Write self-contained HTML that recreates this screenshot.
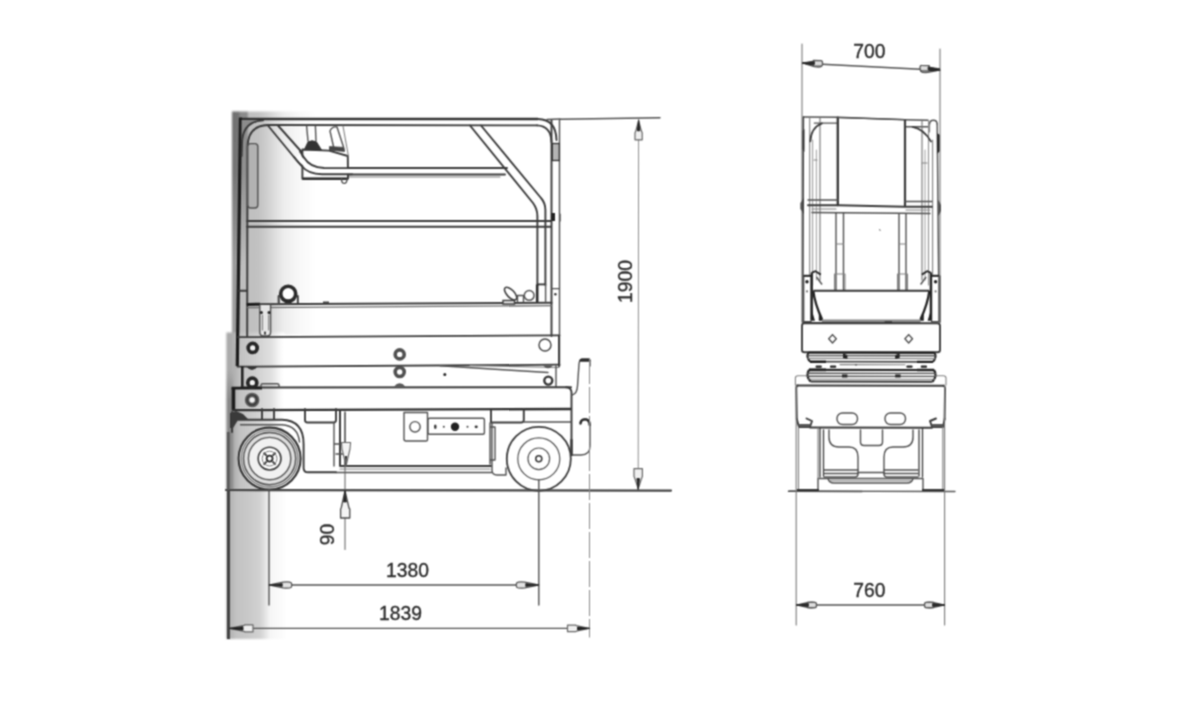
<!DOCTYPE html>
<html>
<head>
<meta charset="utf-8">
<title>Scissor lift dimensions</title>
<style>
html,body{margin:0;padding:0;background:#fff;}
body{width:1200px;height:706px;overflow:hidden;font-family:"Liberation Sans",sans-serif;}
svg{display:block;}
text{font-family:"Liberation Sans",sans-serif;fill:#2a2a2a;stroke:#2a2a2a;stroke-width:0.35;}
.d{stroke:#3a3a3a;stroke-width:1.9;fill:none;stroke-linecap:round;stroke-linejoin:round;}
.m{stroke:#505050;stroke-width:1.4;fill:none;stroke-linecap:round;stroke-linejoin:round;}
.l{stroke:#808080;stroke-width:1.1;fill:none;stroke-linecap:round;stroke-linejoin:round;}
.w{fill:#fff;}
</style>
</head>
<body>
<svg width="1200" height="706" viewBox="0 0 1200 706">
<defs>
  <linearGradient id="sh1" gradientUnits="userSpaceOnUse" x1="232" y1="0" x2="316" y2="0">
    <stop offset="0" stop-color="#9a9a9a"/>
    <stop offset="0.075" stop-color="#9c9c9c"/>
    <stop offset="0.1" stop-color="#bdbdbd"/>
    <stop offset="0.32" stop-color="#c2c2c2"/>
    <stop offset="0.425" stop-color="#d0d0d0"/>
    <stop offset="0.525" stop-color="#e0e0e0"/>
    <stop offset="0.625" stop-color="#eeeeee"/>
    <stop offset="0.8" stop-color="#f8f8f8"/>
    <stop offset="1" stop-color="#ffffff"/>
  </linearGradient>
  <linearGradient id="sh2" gradientUnits="userSpaceOnUse" x1="226" y1="0" x2="288" y2="0">
    <stop offset="0" stop-color="#b0b0b0"/>
    <stop offset="0.08" stop-color="#b4b4b4"/>
    <stop offset="0.16" stop-color="#c2c2c2"/>
    <stop offset="0.39" stop-color="#cacaca"/>
    <stop offset="0.55" stop-color="#d2d2d2"/>
    <stop offset="0.645" stop-color="#e6e6e6"/>
    <stop offset="0.71" stop-color="#f6f6f6"/>
    <stop offset="1" stop-color="#ffffff"/>
  </linearGradient>
  <linearGradient id="sh3" gradientUnits="userSpaceOnUse" x1="226" y1="0" x2="284" y2="0">
    <stop offset="0" stop-color="#a6a6a6"/>
    <stop offset="0.17" stop-color="#b4b4b4"/>
    <stop offset="0.24" stop-color="#c2c2c2"/>
    <stop offset="0.5" stop-color="#cecece"/>
    <stop offset="0.8" stop-color="#e2e2e2"/>
    <stop offset="0.93" stop-color="#f8f8f8"/>
    <stop offset="1" stop-color="#ffffff"/>
  </linearGradient>
  <linearGradient id="shv" gradientUnits="userSpaceOnUse" x1="0" y1="111" x2="0" y2="265">
    <stop offset="0" stop-color="#000" stop-opacity="0.27"/>
    <stop offset="0.4" stop-color="#000" stop-opacity="0.24"/>
    <stop offset="1" stop-color="#000" stop-opacity="0"/>
  </linearGradient>
  <linearGradient id="shv2" gradientUnits="userSpaceOnUse" x1="0" y1="370" x2="0" y2="400">
    <stop offset="0" stop-color="#000" stop-opacity="0"/>
    <stop offset="1" stop-color="#000" stop-opacity="0.2"/>
  </linearGradient>
  <filter id="bl" x="-2%" y="-2%" width="104%" height="104%" color-interpolation-filters="sRGB"><feConvolveMatrix order="3" kernelMatrix="1 2 1 2 5 2 1 2 1" divisor="17" edgeMode="none" preserveAlpha="false"/></filter>
  <filter id="bl2" x="-5%" y="-5%" width="110%" height="110%"><feGaussianBlur stdDeviation="0.9"/></filter>
</defs>
<rect x="0" y="0" width="1200" height="706" fill="#ffffff"/>

<!-- SHADOW -->
<g id="shadow" filter="url(#bl2)">
  <rect x="232" y="111.5" width="84" height="223" fill="url(#sh1)"/>
  <rect x="232" y="111.5" width="16" height="160" fill="url(#shv)"/>
  <rect x="226.4" y="332.5" width="58" height="158" fill="url(#sh3)"/>
  <rect x="226.4" y="370" width="7" height="120" fill="url(#shv2)"/>
  <rect x="226.4" y="490" width="62" height="149" fill="url(#sh2)"/>
</g>

<g id="draw" filter="url(#bl)">
<!-- SIDE VIEW -->
<g id="side">
  <!-- outer sharp frame corner + top -->
  <path d="M240.4,118.9 L538,119" style="stroke:#303030;stroke-width:2.5;fill:none"/><path d="M237.3,366 L240.4,117.6" style="stroke:#1c1c1c;stroke-width:3.2;fill:none"/>
  <path d="M241.6,120 L262,120 Q243.5,122 241.6,142 Z" fill="#8c8c8c"/>
  
  <!-- left tube with rounded corner -->
  <path class="d" d="M241.6,156 L242,143 Q242.6,121.5 263,120.4"/>
  <path class="d" d="M247.2,336 L247.4,148 Q247.4,125 269,125 L537,125.4"/>
  <!-- top right corner curve into post -->
  <path class="d" d="M538,119 Q556,119.4 556.5,140"/>
  <path class="d" d="M537,125.4 Q551,126 551.5,142"/>
  <!-- right post -->
  <path class="d" d="M551.5,120 L551.5,336"/>
  <path class="m" d="M559.5,120 L559.5,366"/>
  <path class="m" d="M547,119.5 L560,119"/>
  <rect x="552.3" y="143.5" width="7" height="17" fill="#b4b4b4" stroke="#333" stroke-width="1.3"/>
  <rect x="551" y="213" width="4" height="8" fill="#222"/>
  <path class="l" d="M560.5,214 L560.5,221"/>
  <!-- inner left panel -->
  <rect class="m" x="247.8" y="143.6" width="10" height="64.4" rx="3" ry="3" style="fill:#b2b2b2"/>
  <!-- left diagonal brace + horizontal rail -->
  <path class="d" d="M277.5,125 L307,158 Q315,168 328,168 L507,168"/>
  <path class="d" d="M267.5,125 L298,162 Q308,174.5 322,174.5 L505,174.5"/>
  <path class="l" d="M330,177 L500,177"/>
  <!-- control box -->
  <path d="M302.4,149.5 L329,150.6 L347.8,156 L348,178.8 L302.4,178.8 Z" style="fill:#fff;stroke:#3a3a3a;stroke-width:1.9;stroke-linejoin:round"/>
  <path d="M302.4,178.8 L348,178.8" style="stroke:#2e2e2e;stroke-width:2.4;fill:none"/>
  <!-- redraw tube over control box -->
  <path d="M298,156 Q309,171 325,171.2 L352,171.2" style="stroke:#fff;stroke-width:5;fill:none"/>
  <path class="d" d="M300,151.5 L304,157.5 Q310,167.6 324,168 L352,168.1"/>
  <path class="d" d="M294,157 L301.7,166 Q308,174 322,174.3 L352,174.3"/>
  <path class="m" d="M341.5,179 Q341.5,183.4 344.2,183.4 Q347,183.4 347,179"/>
  <!-- joysticks -->
  <path class="m" d="M306.6,126 L308,141 M315.4,126 L316,141"/>
  <path d="M304.6,149.2 L308,142 Q312,139.6 316.5,142 L321.5,150 L304.6,149.6 Z" style="fill:#333;stroke:#333;stroke-width:1"/>
  <path class="m" d="M330,131 Q332,126 337,127 L343.5,147 M330,131 L333.6,147"/>
  <path class="l" d="M343,126 L348.4,156"/>
  <path d="M329.4,146.6 L344,147.4 L344.6,151.4 L329.6,150.2 Z" style="fill:#444;stroke:#444;stroke-width:0.8"/>
  <!-- right diagonal brace -->
  <path class="d" d="M481,125.5 L541,198 Q545.4,203 545.4,210 L545.4,285"/>
  <path class="d" d="M470,125.5 L533,203 Q537.4,209 537.4,216 L537.4,285"/>
  <!-- mid rail -->
  <path class="d" d="M247,221 L551,221"/>
  <path class="d" d="M247,226.8 L551,226.8"/>
  <!-- platform floor -->
  <path class="d" d="M247,304.2 L551.6,302.7" style="stroke-width:2"/>
  <path class="m" d="M247,307.6 L551.6,305.7" style="stroke:#6a6a6a;stroke-width:1.3"/>
  <!-- left lower post thick -->
  <path class="d" d="M239,290.8 L247,290.8"/>
  <path d="M247,304.4 L260,304.3" style="stroke:#1c1c1c;stroke-width:3;fill:none"/>
  <!-- small bracket -->
  <path class="m" d="M259.8,305 L259.8,332 Q259.8,336 263.5,336 L267,336 Q270.6,336 270.6,332 L270.6,305" style="fill:#e6e6e6"/>
  <path class="l" d="M262.5,315 L262.5,330 M268.6,315 L268.6,330"/><circle cx="261.4" cy="312.5" r="1.5" fill="#222"/><circle cx="269" cy="312.5" r="1.5" fill="#222"/><rect x="264" y="331.6" width="2" height="3" fill="#444"/>
  <!-- clamp circle -->
  <path class="d" d="M278.6,304 L278.6,296 M297.8,304 L297.8,296"/>
  <path class="m" d="M274,303.6 L279,303.6 L279,300"/>
  <circle cx="288.2" cy="293.8" r="7.5" style="fill:#fff;stroke:#2a2a2a;stroke-width:3.6"/>
  <path d="M284.5,300.5 L292,300.5" style="stroke:#2a2a2a;stroke-width:2;fill:none"/>
  <!-- butterfly / right floor details -->
  <ellipse cx="510.6" cy="293.6" rx="8" ry="3.7" transform="rotate(47 510.6 293.6)" style="fill:#fff;stroke:#3c3c3c;stroke-width:1.6"/>
  <circle cx="529.2" cy="295.4" r="4.9" style="fill:#fff;stroke:#555;stroke-width:1.5"/>
  <path class="m" d="M517.5,302 L517.5,295.5 L523.5,295.5 L523.5,302"/>
  <path d="M503,300.5 L514.5,300.5 L514.5,304 L503,304 Z" style="fill:#eee;stroke:#3c3c3c;stroke-width:1.4"/>
  <path d="M537,284.4 L545.6,284.4" style="stroke:#333;stroke-width:1.8;fill:none"/>
  <path d="M537.2,284.4 L537.2,302" style="stroke:#2a2a2a;stroke-width:2.6;fill:none"/>
  <path class="m" d="M545.6,284.4 L545.6,303"/>
  <path class="m" d="M552,288.6 L559.4,288.6"/>
  <circle cx="555.4" cy="294.2" r="1.2" fill="#2a2a2a"/>
  <path d="M323,301.5 L329,301.5 L329,303.5 L323,303.5Z" fill="#444"/>

  <!-- scissor arm 1 -->
  <path class="d" d="M238,337.2 L559.5,335.3" style="stroke-width:1.8"/>
  <path class="d" d="M237.5,366.7 L559.5,364.7" style="stroke-width:1.8"/>
  <path class="d" d="M559,336 L559,366"/>
  <!-- scissor arm 2 (folded) -->
  <path d="M242.3,366 L242.3,388" style="stroke:#222;stroke-width:2.6;fill:none"/>
  <path class="m" d="M440,365.8 L548,372.5"/>
  <path class="l" d="M470,365.5 L559,367.5"/>
  <path class="m" d="M556,366 L556,387"/>
  <circle cx="444.8" cy="374.5" r="1.5" fill="#222"/>
  <!-- chassis -->
  <path class="d" d="M241,387.6 L571,387.2" style="stroke-width:2"/>
  <path d="M233.4,388 L233.4,410.4" style="stroke:#1c1c1c;stroke-width:3.6;fill:none"/><path class="d" d="M233.4,410.2 L571,409" style="stroke-width:2.3;stroke:#2e2e2e"/>
  <path d="M231.5,388.2 L262,388" style="stroke:#1c1c1c;stroke-width:2.8;fill:none"/>
  <path class="d" d="M566,387.2 Q571,387.2 571.5,392 L571.5,455"/>
  <!-- nub -->
  <path class="m" d="M261,387 L261,385 Q261,383.8 263,383.8 L277,383.8 Q279,383.8 279,385 L279,387"/>
  <!-- bolts -->
  <g>
    <circle cx="252.7" cy="347.9" r="4.5" style="fill:#f2f2f2;stroke:#262626;stroke-width:3.7"/>
    <path d="M246.2,366.6 Q252,373.4 257.6,366.6 Z" fill="#333"/>
    <circle cx="252.3" cy="382.7" r="4.5" style="fill:#f2f2f2;stroke:#262626;stroke-width:3.7"/>
    <circle cx="252.1" cy="400" r="5" style="fill:#f2f2f2;stroke:#5c5c5c;stroke-width:4.6"/>
    <circle cx="252.1" cy="400" r="5" style="fill:none;stroke:#333;stroke-width:1.2"/>
    <circle cx="399.7" cy="354.4" r="4.5" style="fill:#fff;stroke:#505050;stroke-width:3.6"/>
    <circle cx="399.7" cy="372" r="4.5" style="fill:#fff;stroke:#505050;stroke-width:3.6"/>
    <path d="M394,386.6 Q399.7,380 405.4,386.6 Z" fill="#555"/>
    <circle cx="545" cy="345" r="6" style="fill:#fff;stroke:#444;stroke-width:1.4"/>
    <circle cx="548.3" cy="380.6" r="4" style="fill:#fff;stroke:#333;stroke-width:2.4"/>
    <path d="M543,365.4 Q548,371 553,365.4 Z" fill="#555"/>
  </g>
  <!-- under chassis boxes -->
  <path class="d" d="M305,409 L305,420 Q305,422.5 307.5,422.5 L333.5,422.5 Q336,422.5 336,420 L336,409"/>
  <path class="d" d="M491,409 L491,422.5 L521,422.5 Q523.8,422.5 523.8,420 L523.8,409"/>
  <!-- battery box -->
  <path class="d" d="M340,410 L340,466 L491,466" style="stroke-width:2"/>
  <path class="m" d="M345,412 L345,466"/>
  <path class="m" d="M336,472.5 L492,472.5"/>
  <path class="l" d="M340,469 L490,469"/>
  <path class="m" d="M334,422.5 L334,466 M334,444 L345,444 M336,454 L345,454"/>
  <path class="m" d="M490,423 L490,464 M495,427 L495,460 M490,427 L495,427 M490,460 L495,460"/>
  <!-- left fender -->
  <path class="d" d="M238,419.8 L282,419.8 Q303.6,420.5 303.6,444 L303.6,468 Q303.6,472.3 308,472.3 L336,472.3"/>
  <path class="m" d="M240.5,424.8 L282,424.8 Q298,426 299.5,442"/>
  <path class="d" d="M262,409 L262,419 M274,409 L274,419"/>
  <path d="M230,413 L236,411 L243,414 L248,419 L238,420 L233,428 L230,428 Z" fill="#3a3a3a"/>
  <path class="d" d="M232,412 L232,432"/>
  <!-- control panel -->
  <path class="m w" d="M404,412.5 L427.5,412.5 L427.5,440 Q427.5,441 426,441 L406,441 Q404,441 404,439 Z" style="fill:#fff"/>
  <circle class="m" cx="415" cy="426.8" r="5.2"/>
  <rect class="m" x="428" y="418.2" width="56.4" height="16" rx="1.5" style="fill:#fff"/>
  <ellipse cx="435.3" cy="426.8" rx="1.3" ry="2.2" fill="#333"/>
  <circle cx="443.8" cy="426.8" r="1" fill="#444"/>
  <circle cx="455" cy="426.8" r="4.2" fill="#222"/>
  <circle cx="467.5" cy="426.8" r="1" fill="#444"/>
  <ellipse cx="476.2" cy="426.8" rx="1.6" ry="1.4" fill="#333"/>
  <!-- right body to wheel -->
  <path class="m" d="M492,423 L492,470 Q492,475 497,475 L506,475 L506,468"/>
  <path class="m" d="M523.8,422 L571,422"/>
  <!-- right hooks -->
  <path class="m" d="M572,395 Q577,394 577.5,386 L579,364 Q579.5,359 583,359 L588,359 Q590,359 590,362 L590,366"/>
  <path d="M581,360.2 L589,360.2" style="stroke:#2a2a2a;stroke-width:3;fill:none;stroke-linecap:round"/>
  <path class="m" d="M580,423 Q580.5,419 585,419 Q590,419 590,424 L590,446 Q590,455 581,455 L572,455"/><path d="M580.6,423.5 Q581,419.6 585,419.4 Q589.4,419.6 589.6,425" style="stroke:#2a2a2a;stroke-width:2.4;fill:none;stroke-linecap:round"/>
  <!-- LEFT WHEEL -->
  <circle cx="269.6" cy="458.6" r="31" style="fill:#ececec;stroke:#333;stroke-width:2.1"/>
  <circle cx="269.6" cy="458.6" r="28.3" style="fill:none;stroke:#6a6a6a;stroke-width:1.1"/>
  <circle cx="269.6" cy="458.6" r="26.1" style="fill:#dedede;stroke:#4a4a4a;stroke-width:1.4"/>
  <circle cx="269.6" cy="458.6" r="21.2" style="fill:#f1f1f1;stroke:#555;stroke-width:1.4"/>
  <circle cx="269.6" cy="458.6" r="11.4" style="fill:#fff;stroke:#3c3c3c;stroke-width:1.6"/>
  <path d="M263.6,452.6 L266.6,455.6 M275.6,452.6 L272.6,455.6 M263.6,464.6 L266.6,461.6 M275.6,464.6 L272.6,461.6" style="stroke:#333;stroke-width:1.8;fill:none"/>
  <circle cx="269.6" cy="458.6" r="7.4" style="fill:none;stroke:#777;stroke-width:1"/>
  <circle cx="269.6" cy="458.6" r="3" style="fill:#fff;stroke:#2a2a2a;stroke-width:1.8"/>
  <!-- RIGHT WHEEL -->
  <circle cx="538.8" cy="458.8" r="32" fill="#fff" stroke="#3a3a3a" stroke-width="1.8"/>
  <circle cx="538.8" cy="458.8" r="21" fill="none" stroke="#555" stroke-width="1.2"/>
  <circle cx="538.8" cy="458.8" r="10.8" fill="none" stroke="#555" stroke-width="1.2"/>
  <circle cx="538.8" cy="458.8" r="3" fill="#fff" stroke="#333" stroke-width="1.5"/>
  <path class="d" d="M571.5,440 L571.5,455" style="stroke-width:2.4"/>
</g>
<!-- FRONT VIEW -->
<g id="front">
  <!-- top of rails -->
  <path class="m" d="M803.5,117 L838,117.3 L905,119.8 L928,120.3"/>
  <path class="m" d="M814.3,123.1 L837,123.1 M905,126.8 L928.5,126.8"/>
  <!-- left posts -->
  <path class="m" d="M803.3,117 L802.7,322" style="stroke:#3c3c3c;stroke-width:1.7"/>
  <path class="l" d="M809.7,118 L809.7,290"/>
  <path class="l" d="M812.6,140 L812.6,285" style="stroke:#a0a0a0"/>
  <path class="l" d="M816.4,150 L816.4,280" style="stroke:#a8a8a8"/>
  <path class="l" d="M820,118 L820,280" style="stroke:#707070"/>
  <!-- right posts -->
  <path class="m" d="M937.2,124 L938.6,275"/><path class="m" d="M939.9,276 L939.9,322" style="stroke:#3c3c3c;stroke-width:1.7"/>
  <path class="m" d="M929.6,124 Q929.8,120.2 933.4,120.2 Q937,120.2 937.2,124"/>
  <path class="l" d="M929.6,124 L929.6,132"/>
  <path class="l" d="M932.6,140 L932.6,290"/>
  <path class="l" d="M928.5,120.3 L928.5,285" style="stroke:#909090"/>
  <path class="l" d="M925,150 L925,280" style="stroke:#a8a8a8"/>
  <path class="l" d="M922,120 L922,280" style="stroke:#707070"/>
  <!-- curved corners -->
  <path class="d" d="M810.3,141.5 Q811,127.5 822,123.4" style="stroke-width:1.7"/>
  <path class="d" d="M912.5,126.8 Q924,129 931,141.5" style="stroke-width:1.7"/>
  <path class="l" d="M814,160 L817,160 M922,163 L927,163"/>
  <!-- central panel -->
  <path class="d" d="M837.8,117.6 L837.8,205" style="stroke-width:2.4"/>
  <path class="d" d="M905,120 L905,206" style="stroke-width:2.2"/>
  <path class="m" d="M838,117.6 L905,119.6"/>
  <!-- side blobs -->
  <path d="M800.5,203 L803.5,198 L803.5,214 L800.5,209 Z" fill="#222"/>
  <path d="M941,205 L938.5,200 L938.5,216 L941,211 Z" fill="#222"/>
  <path d="M802.4,131 L804.4,129 L804.4,152 L802.4,149 Z" fill="#222"/>
  <path d="M939.8,135 L937.2,133 L937.2,154 L939.8,151 Z" fill="#222"/>
  <!-- mid rails -->
  <path class="m" d="M808,200 L838,200 M905,201.5 L932,201.5"/>
  <path class="d" d="M808,205.3 L838,205.3 L905,206.8 L932,206.8"/>
  <path class="m" d="M812,212.5 L930,213.5"/>
  <path class="l" d="M812,209 L836,209 M906,210 L930,210"/>
  <!-- lower vertical posts -->
  <path class="m" d="M836,213 L836,290 M843.5,213 L843.5,290"/>
  <path class="m" d="M899,214 L899,290 M906,214 L906,290"/>
  <path class="l" d="M836,244 L843.5,244 M834.5,274 L845,274 M834.5,274 L834.5,290 M845,274 L845,290"/>
  <path class="l" d="M899,244 L906,244 M897.5,274 L907.5,274 M897.5,274 L897.5,290 M907.5,274 L907.5,290"/>
  <path class="l" d="M879.5,229.5 L880.2,230.5"/>
  <!-- brackets at tray -->
  <path d="M803.7,275.6 L811.0,275.6 L811.0,321.6 L803.7,321.6 Z" style="fill:#fff;stroke:#4a4a4a;stroke-width:1.3"/>
  <path d="M803.7,275.8 L811.8,275.8" style="stroke:#222;stroke-width:2;fill:none"/>
  <circle cx="807.0" cy="281.8" r="1.7" fill="#1e1e1e"/><circle cx="807.0" cy="291.4" r="1.1" fill="#777"/>
  <path d="M811.8,272.6 L811.8,319.7" style="stroke:#222;stroke-width:2.2;fill:none"/>
  <path d="M811.5,272.8 L815.5,271.2 L820.8,274.6" style="stroke:#2a2a2a;stroke-width:1.9;fill:none;stroke-linejoin:round"/>
  <path d="M816.5,277 L822.0,284.5" style="stroke:#555;stroke-width:1.5;fill:none"/>
  <path d="M813.3,290.8 Q814.6,303 822.0,319.2" style="stroke:#222;stroke-width:2.3;fill:none"/>
  <path d="M811.2,308 L815.0,320.8 L811.2,320.8 Z M818.8,313.5 L823.6,320.8 L818.8,320.8 Z" fill="#222"/>
  <path d="M938.9,275.6 L931.6,275.6 L931.6,321.6 L938.9,321.6 Z" style="fill:#fff;stroke:#4a4a4a;stroke-width:1.3"/>
  <path d="M938.9,275.8 L930.8,275.8" style="stroke:#222;stroke-width:2;fill:none"/>
  <circle cx="935.6" cy="281.8" r="1.7" fill="#1e1e1e"/><circle cx="935.6" cy="291.4" r="1.1" fill="#777"/>
  <path d="M930.8,272.6 L930.8,319.7" style="stroke:#222;stroke-width:2.2;fill:none"/>
  <path d="M931.1,272.8 L927.1,271.2 L921.8,274.6" style="stroke:#2a2a2a;stroke-width:1.9;fill:none;stroke-linejoin:round"/>
  <path d="M926.1,277 L920.6,284.5" style="stroke:#555;stroke-width:1.5;fill:none"/>
  <path d="M929.3,290.8 Q928.0,303 920.6,319.2" style="stroke:#222;stroke-width:2.3;fill:none"/>
  <path d="M931.4,308 L927.6,320.8 L931.4,320.8 Z M923.8,313.5 L919.0,320.8 L923.8,320.8 Z" fill="#222"/>
  <!-- tray -->
  <path d="M813.3,290.7 L929.4,290.7" style="stroke:#333;stroke-width:2.1;fill:none"/>
  <path d="M822,321.8 L920.6,321.8" style="stroke:#8a8a8a;stroke-width:4.4;fill:none"/>
  <path d="M884.6,322.3 L892,322.3" style="stroke:#1e1e1e;stroke-width:1.8;fill:none"/>
  <!-- box with diamonds -->
  <path class="d" d="M804.5,323 L937.5,323.3 Q940,323.3 940,326 L940,350 Q940,352.3 937.5,352.3 L804.5,352.3 Q802,352.3 802,350 L802,326 Q802,323 804.5,323 Z"/>
  <path class="m" d="M832.5,334.6 L836.3,338.8 L832.5,343 L828.7,338.8 Z"/>
  <path class="m" d="M908.7,334.6 L912.5,338.8 L908.7,343 L904.9,338.8 Z"/>
  <!-- scissor stacks -->
  <path d="M808.5,352.6 L934.5,352.8" style="stroke:#222;stroke-width:2.2;fill:none"/>
  <path d="M808.5,352.6 Q805.8,357 810,361.6 M934.5,352.8 Q937.2,357 933,361.8" style="stroke:#222;stroke-width:2;fill:none"/>
  <path class="m" d="M808,355.6 L935,355.8"/>
  <path class="l" d="M808,358.4 L935,358.6"/>
  <path d="M810,361.7 L933,361.9" style="stroke:#4a4a4a;stroke-width:1.8;fill:none"/>
  <path d="M810,361.7 L826,361.7 M917,361.9 L933,361.9" style="stroke:#1e1e1e;stroke-width:2.4;fill:none"/>
  <path d="M843,353.5 L847.4,355 L847.4,359 L843,358 Z M899.6,353.5 L895.2,355 L895.2,359 L899.6,358 Z" fill="#222"/>
  <path d="M816.6,366.7 L820.8,366.7 M831,366.7 L835.2,366.7 M907.4,366.7 L911.6,366.7 M921.8,366.7 L926,366.7" style="stroke:#222;stroke-width:2.2;fill:none;stroke-linecap:round"/>
  <path class="l" d="M840,364.6 L905,364.8"/>
  <path d="M854.5,364 L856,366 L857.5,364 Z" fill="#555"/>
  <path d="M809,369.8 L934,370" style="stroke:#222;stroke-width:2.2;fill:none"/>
  <path d="M809,369.8 Q805.2,375.5 810.5,381.5 M934,370 Q937.8,375.5 932.5,381.7" style="stroke:#222;stroke-width:2.2;fill:none"/>
  <path d="M809,369.9 L826,369.9 M917,370 L934,370" style="stroke:#1e1e1e;stroke-width:2.6;fill:none"/>
  <path class="m" d="M807.6,373.2 L935.4,373.4 M807.4,376.2 L935.6,376.4"/>
  <path class="l" d="M808.5,379 L934.5,379.2"/>
  <path d="M810.5,381.6 L932.5,381.8" style="stroke:#333;stroke-width:2;fill:none"/>
  <path d="M842,374.6 L847.4,374.6 L847.4,377.4 L842,377.4 Z M900.6,374.6 L895.2,374.6 L895.2,377.4 L900.6,377.4 Z" fill="#222"/>
  <!-- chassis -->
  <path class="l" d="M795.4,385 L795.4,378 Q795.4,375.8 798,375.8 L806,375.8 M946,385 L946,378 Q946,375.8 943.4,375.8 L936,375.8"/>
  <path class="d" d="M797.5,385.5 L943.5,385.8" style="stroke-width:2"/>
  <path class="d" d="M797.5,385.5 Q796.3,386 796.3,389 L796.8,419 M943.5,385.8 Q945,386 945,389 L944.6,419"/>
  <path class="d" d="M796.8,419 L799,427 L810,427 L812,421 L806.5,418.5 M944.6,419 L943,427 L932,427 L930,421 L936,418.5"/>
  <path d="M799,424 L811,424 L810,427 L799.5,427 Z M943.5,424 L931.5,424 L932,427 L943,427 Z" fill="#555"/>
  <path class="d" d="M810,427.5 L932,427.8"/>
  <rect class="m" x="837" y="413" width="20.5" height="11.5" rx="5.5"/>
  <rect class="m" x="885" y="413" width="20.5" height="11.5" rx="5.5"/>
  <!-- under body -->
  <path class="d" d="M820,428 L820,477 M823.5,430 L823.5,476" style="stroke-width:1.3"/>
  <path class="d" d="M922.5,428 L922.5,477 M919,430 L919,476" style="stroke-width:1.3"/>
  <path class="m" d="M829,430 L829,437 Q829,447 839,447 L849,447 Q858,447 858,457 L858,474 Q858,477 855,477 L824,477"/>
  <path class="m" d="M913,430 L913,437 Q913,447 903,447 L893,447 Q884,447 884,457 L884,474 Q884,477 887,477 L918,477"/>
  <path class="m" d="M860.5,430 L860.5,442 Q860.5,445.5 864,445.5 L879,445.5 Q882.5,445.5 882.5,442 L882.5,430"/>
  <path class="m" d="M824,470 L858,470 M884,470 L918,470 M858,472.5 L884,472.5 M824,473.5 L858,473.5 M884,473.5 L918,473.5"/>
  <path class="m" d="M818,478.5 L818,491 M923,478.5 L923,491 M818,478.5 L923,478.5"/>
  <path class="m" d="M828,478.5 Q829,483 834,483 L907,483 Q912,483 913,478.5"/>
  <path class="l" d="M830,480.7 L911,480.7"/>
  <!-- wheels (faint) -->
  <path class="l" d="M798.5,427 L798.5,489 M818,428 L818,489 M942.8,427 L942.8,489"/>
</g>
<!-- DIMENSIONS -->
<g id="dims">
  <!-- ground + top ext lines (side) -->
  <path class="d" d="M226,490 L671,490.6" style="stroke-width:2.2;stroke:#444"/>
  <path class="m" d="M560,119.3 L660,117.8"/>
  <!-- left dark edge -->
  <path d="M228.4,432 L228.4,490" stroke="#555" stroke-width="2.4" fill="none"/><path d="M228.5,490 L228.5,639" stroke="#444" stroke-width="3" fill="none"/>
  <!-- 1900 vertical -->
  <path class="l" d="M638.6,120 L638.2,489" style="stroke:#8e8e8e;stroke-width:1"/>
  <text transform="translate(631.6,281.5) rotate(-90)" font-size="19.3" text-anchor="middle">1900</text>
  <!-- dashed overall length line -->
  <path d="M589.5,358 L589.5,637.5" stroke="#8a8a8a" stroke-width="1" stroke-dasharray="26 3" fill="none"/>
  <!-- wheel centre lines -->
  <path class="m" d="M269,490 L269,605"/>
  <path class="m" d="M538.8,480 L538.8,605"/>
  <!-- 1380 -->
  <path class="m" d="M269,585 L538.8,585"/>
  <text x="407.5" y="576.8" font-size="19.3" text-anchor="middle">1380</text>
  <!-- 1839 -->
  <path class="m" d="M229,628.4 L589.5,628.4"/>
  <text x="400.5" y="620.3" font-size="19.3" text-anchor="middle">1839</text>
  <!-- FRONT dims -->
  <path class="d" d="M788.5,491.2 L862,491.4" style="stroke-width:1.5"/>
  <path class="d" d="M790,491.2 L955,491.5" style="stroke-width:1.3;stroke:#555"/>
  <path d="M797,490 L819,490 M922,490 L945,490" stroke="#333" stroke-width="2.2" fill="none"/>
  <path class="l" d="M802,44 L802,322" style="stroke:#777"/>
  <path class="l" d="M940,49 L940,322" style="stroke:#777"/>
  <path class="m" d="M802.5,63.2 L940,70.2"/>
  <text x="869.3" y="57.6" font-size="19.3" text-anchor="middle">700</text>
  <path class="l" d="M796.2,385 L796.2,625" style="stroke:#777"/>
  <path class="l" d="M944.6,385 L944.6,625" style="stroke:#777"/>
  <path class="m" d="M796.5,605 L944.5,605"/>
  <text x="869.3" y="597.1" font-size="19.3" text-anchor="middle">760</text>
  <!-- 90 -->
  <path class="m" d="M345,413 L345,549.5" style="stroke-width:1;stroke:#5a5a5a"/>
  <text transform="translate(333.7,534.5) rotate(-90)" font-size="19.3" text-anchor="middle">90</text>
  <!-- arrows -->
  <path d="M638.6,120.8 L635.5,131.8 L635.0,132.8 L635.0,139.8 L642.2,139.8 L642.2,132.8 L641.7,131.8 Z" style="fill:#f0f0f0;stroke:#666;stroke-width:1.2;stroke-linejoin:round"/><path d="M638.6,119.8 L637.3,130.8 L639.9,130.8 Z" style="fill:#1e1e1e;stroke:#1e1e1e;stroke-width:0.9;stroke-linejoin:round"/>
  <path d="M638.2,488.6 L641.9,477.6 L642.4,476.6 L642.4,468.6 L634.0,468.6 L634.0,476.6 L634.5,477.6 Z" style="fill:#f0f0f0;stroke:#666;stroke-width:1.2;stroke-linejoin:round"/><path d="M638.2,489.6 L639.5,478.6 L636.9,478.6 Z" style="fill:#1e1e1e;stroke:#1e1e1e;stroke-width:0.9;stroke-linejoin:round"/>
  <path d="M272.2,585.6 L283.2,587.9 Q289.7,588.7 291.4,587.1 Q292.2,585.0 291.4,582.9 Q289.7,581.3 283.2,582.1 L272.2,584.4 Z" style="fill:#e2e2e2;stroke:#555;stroke-width:1.3;stroke-linejoin:round"/><path d="M269.2,585.0 L282.2,586.3 L282.2,583.7 Z" style="fill:#1e1e1e;stroke:#1e1e1e;stroke-width:0.9;stroke-linejoin:round"/>
  <path d="M535.8,584.4 L524.8,582.1 Q518.3,581.3 516.6,582.9 Q515.8,585.0 516.6,587.1 Q518.3,588.7 524.8,587.9 L535.8,585.6 Z" style="fill:#e2e2e2;stroke:#555;stroke-width:1.3;stroke-linejoin:round"/><path d="M538.8,585.0 L525.8,583.7 L525.8,586.3 Z" style="fill:#1e1e1e;stroke:#1e1e1e;stroke-width:0.9;stroke-linejoin:round"/>
  <path d="M230.0,628.4 L244.0,631.4 L245.0,631.9 L253.0,631.9 L253.0,624.9 L245.0,624.9 L244.0,625.4 Z" style="fill:#f0f0f0;stroke:#666;stroke-width:1.2;stroke-linejoin:round"/><path d="M229.0,628.4 L243.0,630.1 L243.0,626.7 Z" style="fill:#1e1e1e;stroke:#1e1e1e;stroke-width:0.9;stroke-linejoin:round"/>
  <path d="M588.5,628.4 L576.5,625.6 L575.5,625.1 L567.5,625.1 L567.5,631.7 L575.5,631.7 L576.5,631.2 Z" style="fill:#f0f0f0;stroke:#666;stroke-width:1.2;stroke-linejoin:round"/><path d="M589.5,628.4 L577.5,627.1 L577.5,629.7 Z" style="fill:#1e1e1e;stroke:#1e1e1e;stroke-width:0.9;stroke-linejoin:round"/>
  <path d="M805.5,64.0 L814.3,66.6 Q819.8,67.7 821.6,66.2 Q822.5,64.2 821.8,62.2 Q820.2,60.5 814.6,61.0 L805.5,62.8 Z" style="fill:#e2e2e2;stroke:#555;stroke-width:1.3;stroke-linejoin:round"/><path d="M802.5,63.2 L813.4,65.1 L813.6,62.5 Z" style="fill:#1e1e1e;stroke:#1e1e1e;stroke-width:0.9;stroke-linejoin:round"/>
  <path d="M937.0,69.4 L928.2,66.8 Q922.7,65.7 920.9,67.2 Q920.0,69.2 920.7,71.2 Q922.3,72.9 927.9,72.4 L937.0,70.6 Z" style="fill:#e2e2e2;stroke:#555;stroke-width:1.3;stroke-linejoin:round"/><path d="M940.0,70.2 L929.1,68.3 L928.9,70.9 Z" style="fill:#1e1e1e;stroke:#1e1e1e;stroke-width:0.9;stroke-linejoin:round"/>
  <path d="M799.5,605.6 L808.5,607.7 Q814.0,608.5 815.7,606.9 Q816.5,605.0 815.7,603.1 Q814.0,601.5 808.5,602.3 L799.5,604.4 Z" style="fill:#e2e2e2;stroke:#555;stroke-width:1.3;stroke-linejoin:round"/><path d="M796.5,605.0 L807.5,606.3 L807.5,603.7 Z" style="fill:#1e1e1e;stroke:#1e1e1e;stroke-width:0.9;stroke-linejoin:round"/>
  <path d="M941.5,604.4 L932.5,602.3 Q927.0,601.5 925.3,603.1 Q924.5,605.0 925.3,606.9 Q927.0,608.5 932.5,607.7 L941.5,605.6 Z" style="fill:#e2e2e2;stroke:#555;stroke-width:1.3;stroke-linejoin:round"/><path d="M944.5,605.0 L933.5,603.7 L933.5,606.3 Z" style="fill:#1e1e1e;stroke:#1e1e1e;stroke-width:0.9;stroke-linejoin:round"/>
  <path d="M345,491 L341.2,508 L340.6,509 L340.6,518 L349.8,518 L349.8,509 L349,508 Z" fill="#f4f4f4" stroke="#4a4a4a" stroke-width="1.3" stroke-linejoin="round"/><path d="M345,490.5 L343.6,502 L346.4,502 Z" fill="#222" stroke="#222" stroke-width="0.8"/>
  <path d="M813.4,65.8 L820.9,66.1 Q822.4,66.2 822.5,63.5 Q822.6,60.8 821.1,60.7 L813.6,60.4 Z" fill="#dcdcdc" stroke="#555" stroke-width="1.3"/><path d="M802.5,62.6 L814.4,64.4 L814.5,61.8 Z" fill="#2a2a2a" stroke="#2a2a2a" stroke-width="0.8"/>
  <path d="M929.1,65.6 L921.6,65.3 Q920.1,65.2 920.0,67.9 Q919.9,70.6 921.4,70.7 L928.9,71.0 Z" fill="#dcdcdc" stroke="#555" stroke-width="1.3"/><path d="M940.0,68.8 L928.1,67.0 L928.0,69.6 Z" fill="#2a2a2a" stroke="#2a2a2a" stroke-width="0.8"/>
  <path d="M807.5,607.7 L815.0,607.7 Q816.5,607.7 816.5,605.0 Q816.5,602.3 815.0,602.3 L807.5,602.3 Z" fill="#dcdcdc" stroke="#555" stroke-width="1.3"/><path d="M796.5,605.0 L808.5,606.3 L808.5,603.7 Z" fill="#2a2a2a" stroke="#2a2a2a" stroke-width="0.8"/>
  <path d="M933.5,602.3 L926.0,602.3 Q924.5,602.3 924.5,605.0 Q924.5,607.7 926.0,607.7 L933.5,607.7 Z" fill="#dcdcdc" stroke="#555" stroke-width="1.3"/><path d="M944.5,605.0 L932.5,603.7 L932.5,606.3 Z" fill="#2a2a2a" stroke="#2a2a2a" stroke-width="0.8"/>
  <path d="M346,466 L342,449 L341.6,442.5 L350.6,442.5 L350,449 Z" fill="#f4f4f4" stroke="#666" stroke-width="1.1" stroke-linejoin="round"/><path d="M346,466 L344.8,456 L347.2,456 Z" fill="#333"/>
</g>
</g>
</svg>
</body>
</html>
